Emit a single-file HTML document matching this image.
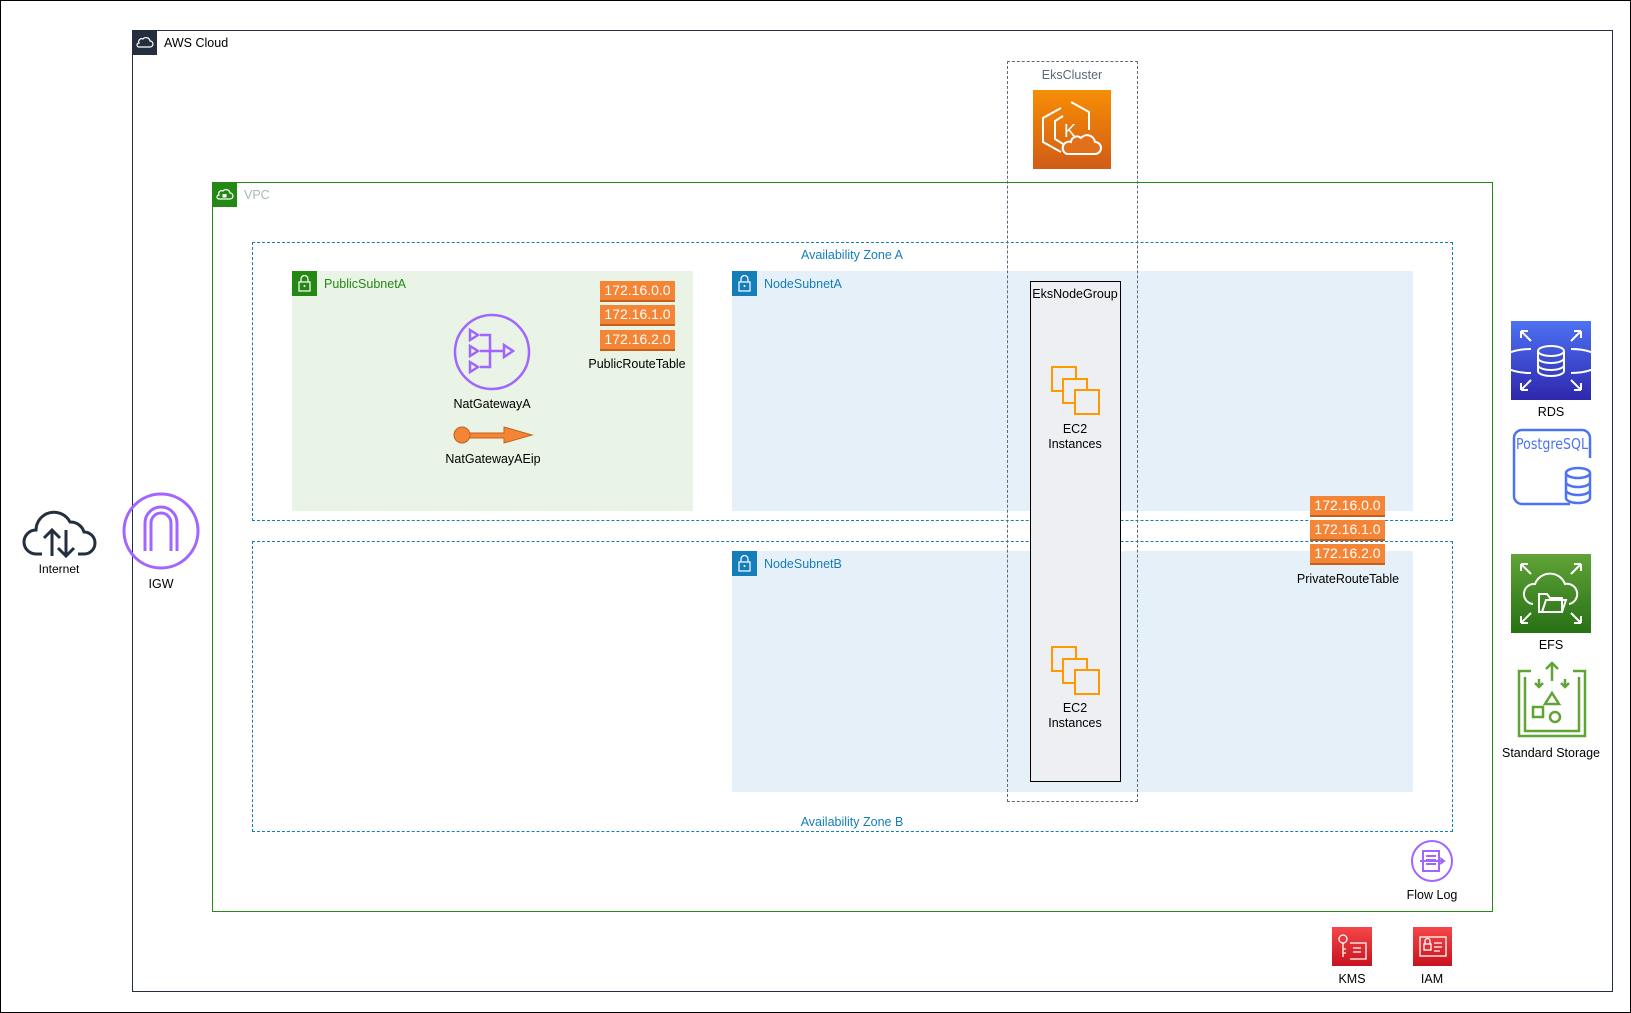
<!DOCTYPE html>
<html><head><meta charset="utf-8"><style>
*{box-sizing:border-box;margin:0;padding:0}
body{width:1631px;height:1013px;position:relative;background:#fff;font-family:"Liberation Sans",sans-serif;font-size:12.5px;color:#000;overflow:hidden}
.a{position:absolute}
.t{position:absolute;white-space:nowrap;transform:translateX(-50%);text-align:center;line-height:15px}
.rt{position:absolute;background:#f58536;color:#fff;font-size:14px;text-align:center;line-height:19px;border-bottom:2px solid #c5601a}
</style></head><body>
<div class="a" style="left:0;top:0;width:1631px;height:1013px;border:1px solid #000"></div>
<!-- AWS Cloud -->
<div class="a" style="left:132px;top:30px;width:1481px;height:962px;border:1px solid #232f3e"></div>
<div class="a" style="left:132px;top:30px;width:25px;height:25px;background:#232f3e"></div>
<svg class="a" style="left:135px;top:35px" width="19" height="14"><path d="M4 12 h11 a3 3 0 0 0 0-6 a4 4 0 0 0-7-2 a3 3 0 0 0-4 4 a2 2 0 0 0 0 4z" fill="none" stroke="#fff" stroke-width="1.2"/></svg>
<div class="a" style="left:164px;top:36px;line-height:15px">AWS Cloud</div>
<!-- VPC -->
<div class="a" style="left:212px;top:182px;width:1281px;height:730px;border:1px solid #248814"></div>
<div class="a" style="left:212px;top:182px;width:25px;height:25px;background:#248814"></div>
<svg class="a" style="left:215px;top:187px" width="19" height="15"><path d="M4 12 h11 a3 3 0 0 0 0-6 a4 4 0 0 0-7-2 a3 3 0 0 0-4 4 a2 2 0 0 0 0 4z" fill="none" stroke="#fff" stroke-width="1.2"/><rect x="7.5" y="7" width="4" height="3.5" fill="#fff"/></svg>
<div class="a" style="left:244px;top:188px;color:#aab7b8;line-height:15px">VPC</div>
<!-- AZs -->
<div class="a" style="left:252px;top:242px;width:1201px;height:279px;border:1px dashed #147eba"></div>
<div class="t" style="left:852px;top:248px;color:#147eba">Availability Zone A</div>
<div class="a" style="left:252px;top:541px;width:1201px;height:291px;border:1px dashed #147eba"></div>
<div class="t" style="left:852px;top:815px;color:#147eba">Availability Zone B</div>
<!-- subnets -->
<div class="a" style="left:292px;top:271px;width:401px;height:240px;background:#e9f3e6"></div>
<div class="a" style="left:292px;top:271px;width:25px;height:25px;background:#248814"></div>
<svg class="a" style="left:296px;top:274px" width="17" height="19"><path d="M5 8 V5 a3.5 3.5 0 0 1 7 0 V8" fill="none" stroke="#fff" stroke-width="1.2"/><rect x="3" y="8" width="11" height="9" fill="none" stroke="#fff" stroke-width="1.2"/><circle cx="8.5" cy="12" r="1" fill="#fff"/></svg>
<div class="a" style="left:324px;top:277px;color:#248814;line-height:15px">PublicSubnetA</div>
<div class="a" style="left:732px;top:271px;width:681px;height:240px;background:#e6f0f8"></div>
<div class="a" style="left:732px;top:271px;width:25px;height:25px;background:#147eba"></div>
<svg class="a" style="left:736px;top:274px" width="17" height="19"><path d="M5 8 V5 a3.5 3.5 0 0 1 7 0 V8" fill="none" stroke="#fff" stroke-width="1.2"/><rect x="3" y="8" width="11" height="9" fill="none" stroke="#fff" stroke-width="1.2"/><circle cx="8.5" cy="12" r="1" fill="#fff"/></svg>
<div class="a" style="left:764px;top:277px;color:#147eba;line-height:15px">NodeSubnetA</div>
<div class="a" style="left:732px;top:551px;width:681px;height:241px;background:#e6f0f8"></div>
<div class="a" style="left:732px;top:551px;width:25px;height:25px;background:#147eba"></div>
<svg class="a" style="left:736px;top:554px" width="17" height="19"><path d="M5 8 V5 a3.5 3.5 0 0 1 7 0 V8" fill="none" stroke="#fff" stroke-width="1.2"/><rect x="3" y="8" width="11" height="9" fill="none" stroke="#fff" stroke-width="1.2"/><circle cx="8.5" cy="12" r="1" fill="#fff"/></svg>
<div class="a" style="left:764px;top:557px;color:#147eba;line-height:15px">NodeSubnetB</div>
<!-- Eks node group -->
<div class="a" style="left:1030px;top:281px;width:91px;height:501px;background:#eeeff3;border:1px solid #000"></div>
<div class="t" style="left:1075px;top:287px">EksNodeGroup</div>
<!-- EksCluster -->
<div class="a" style="left:1007px;top:61px;width:131px;height:741px;border:1px dashed #5a6b7b"></div>
<div class="t" style="left:1072px;top:68px;color:#5a6b7b">EksCluster</div>
<div class="a" style="left:1033px;top:90px;width:78px;height:79px;background:linear-gradient(#f78e04,#d05c17)"></div>
<svg class="a" style="left:1033px;top:90px" width="78" height="79"><g fill="none" stroke="#fff" stroke-width="2"><path d="M28 18 L10 28 V52 L28 62"/><path d="M38 12 L56 22 V40"/><path d="M30 26 L22 31 V49 L30 54"/><text x="31" y="47" font-size="18" fill="#fff" stroke="none" font-family="Liberation Sans">K</text><path d="M34 64 h28 a6 6 0 0 0 0-12 a8 8 0 0 0-14-4 a6 6 0 0 0-10 4 a6 6 0 0 0-4 12z" fill="#e2701a"/></g></svg>
<!-- EC2 -->
<svg class="a" style="left:1051px;top:366px" width="50" height="50"><g fill="none" stroke="#f90" stroke-width="2"><rect x="1" y="1" width="24" height="24"/><rect x="12" y="13" width="24" height="24" fill="#eeeff3"/><rect x="24" y="24" width="24" height="24" fill="#eeeff3"/></g></svg>
<div class="t" style="left:1075px;top:422px">EC2<br>Instances</div>
<svg class="a" style="left:1051px;top:646px" width="50" height="50"><g fill="none" stroke="#f90" stroke-width="2"><rect x="1" y="1" width="24" height="24"/><rect x="12" y="13" width="24" height="24" fill="#eeeff3"/><rect x="24" y="24" width="24" height="24" fill="#eeeff3"/></g></svg>
<div class="t" style="left:1075px;top:701px">EC2<br>Instances</div>
<!-- NAT -->
<svg class="a" style="left:452px;top:312px" width="80" height="80"><g fill="none" stroke="#a166ff" stroke-width="2.5"><circle cx="40" cy="40" r="37"/><path d="M18 18 l8 5 l-8 5z M18 34 l8 5 l-8 5z M18 50 l8 5 l-8 5z M28 23 h10 v32 h-10 M28 39 h24 M52 33 l9 6 l-9 6z"/></g></svg>
<div class="t" style="left:492px;top:397px">NatGatewayA</div>
<svg class="a" style="left:452px;top:424px" width="84" height="24"><path d="M12 9 H52 V3 L80 11 L52 19 V14 H12z" fill="#f58536" stroke="#c5601a"/><circle cx="10" cy="11" r="8" fill="#f58536" stroke="#c5601a"/></svg>
<div class="t" style="left:493px;top:452px">NatGatewayAEip</div>
<!-- route tables -->
<div class="rt" style="left:600px;top:281px;width:75px;height:21px">172.16.0.0</div>
<div class="rt" style="left:600px;top:305px;width:75px;height:21px">172.16.1.0</div>
<div class="rt" style="left:600px;top:330px;width:75px;height:21px">172.16.2.0</div>
<div class="t" style="left:637px;top:357px">PublicRouteTable</div>
<div class="rt" style="left:1310px;top:496px;width:75px;height:21px">172.16.0.0</div>
<div class="rt" style="left:1310px;top:520px;width:75px;height:21px">172.16.1.0</div>
<div class="rt" style="left:1310px;top:544px;width:75px;height:21px">172.16.2.0</div>
<div class="t" style="left:1348px;top:572px">PrivateRouteTable</div>
<!-- Internet -->
<svg class="a" style="left:22px;top:506px" width="76" height="52"><g fill="none" stroke="#232f3e" stroke-width="3"><path d="M20 48 h-6 a12 12 0 0 1 0-24 a18 18 0 0 1 34-8 a14 14 0 0 1 14 10 a11 11 0 0 1 0 22 h-6"/><path d="M30 50 V24 M22 32 l8-8 l8 8 M44 24 V50 M36 42 l8 8 l8-8"/></g></svg>
<div class="t" style="left:59px;top:562px;font-size:12px">Internet</div>
<!-- IGW -->
<svg class="a" style="left:121px;top:491px" width="80" height="80"><g fill="none" stroke="#a166ff" stroke-width="3"><circle cx="40" cy="40" r="37"/><path d="M24 60 V32 a16 16 0 0 1 32 0 V60 M30 60 V32 a10 10 0 0 1 20 0 V60"/></g></svg>
<div class="t" style="left:161px;top:577px">IGW</div>
<!-- RDS -->
<div class="a" style="left:1511px;top:321px;width:80px;height:79px;background:linear-gradient(#4d72f3,#2e27ad)"></div>
<svg class="a" style="left:1511px;top:321px" width="80" height="79"><g fill="none" stroke="#fff" stroke-width="2"><ellipse cx="40" cy="30" rx="13" ry="5"/><path d="M27 30 v20 a13 5 0 0 0 26 0 v-20 M27 37 a13 5 0 0 0 26 0 M27 44 a13 5 0 0 0 26 0"/><path d="M20 28 a30 12 0 0 0 0 24 M60 28 a30 12 0 0 1 0 24"/><path d="M10 10 l10 10 M10 10 h7 M10 10 v7 M70 10 l-10 10 M70 10 h-7 M70 10 v7 M10 69 l10-10 M10 69 h7 M10 69 v-7 M70 69 l-10-10 M70 69 h-7 M70 69 v-7"/></g></svg>
<div class="t" style="left:1551px;top:405px">RDS</div>
<!-- PostgreSQL -->
<svg class="a" style="left:1510px;top:428px" width="84" height="82"><g fill="none" stroke="#4d72f3" stroke-width="2.5"><path d="M60 76 H12 a8 8 0 0 1-8-8 V10 a8 8 0 0 1 8-8 H72 a8 8 0 0 1 8 8 V30"/><ellipse cx="68" cy="45" rx="12" ry="5"/><path d="M56 45 v25 a12 5 0 0 0 24 0 v-25 M56 54 a12 5 0 0 0 24 0 M56 62 a12 5 0 0 0 24 0"/></g><text x="6" y="21" font-size="15" fill="#4d72f3" font-family="DejaVu Sans Condensed,DejaVu Sans,sans-serif" textLength="72" lengthAdjust="spacingAndGlyphs">PostgreSQL</text></svg>
<!-- EFS -->
<div class="a" style="left:1511px;top:554px;width:80px;height:79px;background:linear-gradient(#60a337,#277116)"></div>
<svg class="a" style="left:1511px;top:554px" width="80" height="79"><g fill="none" stroke="#fff" stroke-width="2"><path d="M22 50 a10 10 0 0 1 2-20 a16 16 0 0 1 30 0 a10 10 0 0 1 4 20"/><path d="M28 58 V40 h8 l3 4 h12 v14z M31 58 l4-12 h20 l-4 12"/><path d="M10 10 l10 10 M10 10 h7 M10 10 v7 M70 10 l-10 10 M70 10 h-7 M70 10 v7 M10 69 l10-10 M10 69 h7 M10 69 v-7 M70 69 l-10-10 M70 69 h-7 M70 69 v-7"/></g></svg>
<div class="t" style="left:1551px;top:638px">EFS</div>
<!-- Standard Storage -->
<svg class="a" style="left:1511px;top:661px" width="80" height="79"><g fill="none" stroke="#60a337" stroke-width="2.5"><path d="M20 10 H8 V75 H74 V10 H62 M14 16 V70 H68 V16"/><path d="M41 2 V20 M35 8 l6-6 l6 6 M28 18 V26 M24 22 l4 4 l4-4 M54 18 V26 M50 22 l4 4 l4-4"/><path d="M41 32 l7 11 h-14z"/><rect x="22" y="46" width="10" height="10"/><circle cx="44" cy="56" r="5"/></g></svg>
<div class="t" style="left:1551px;top:746px">Standard Storage</div>
<!-- Flow Log -->
<svg class="a" style="left:1410px;top:839px" width="44" height="44"><g fill="none" stroke="#a166ff" stroke-width="2"><circle cx="22" cy="22" r="20"/><rect x="13" y="12" width="16" height="20"/><path d="M16 17 h10 M16 21 h10 M16 25 h10 M10 22 h24 M30 19 l4 3 l-4 3"/></g></svg>
<div class="t" style="left:1432px;top:888px">Flow Log</div>
<!-- KMS / IAM -->
<div class="a" style="left:1332px;top:927px;width:40px;height:39px;background:linear-gradient(#f54749,#c7131f)"></div>
<svg class="a" style="left:1332px;top:927px" width="40" height="39"><g fill="none" stroke="#fff" stroke-width="1.3"><circle cx="11" cy="12" r="4"/><path d="M11 16 v14 M11 22 h3 M11 26 h3 M18 16 h16 v16 H18 M21 21 h8 M21 25 h8"/></g></svg>
<div class="t" style="left:1352px;top:972px">KMS</div>
<div class="a" style="left:1413px;top:927px;width:39px;height:39px;background:linear-gradient(#f54749,#c7131f)"></div>
<svg class="a" style="left:1413px;top:927px" width="39" height="39"><g fill="none" stroke="#fff" stroke-width="1.3"><rect x="7" y="10" width="26" height="19"/><rect x="11" y="17" width="7" height="6"/><path d="M12 17 v-3 a2.5 2.5 0 0 1 5 0 v3 M21 16 h8 M21 20 h8 M21 24 h6"/></g></svg>
<div class="t" style="left:1432px;top:972px">IAM</div>
</body></html>
